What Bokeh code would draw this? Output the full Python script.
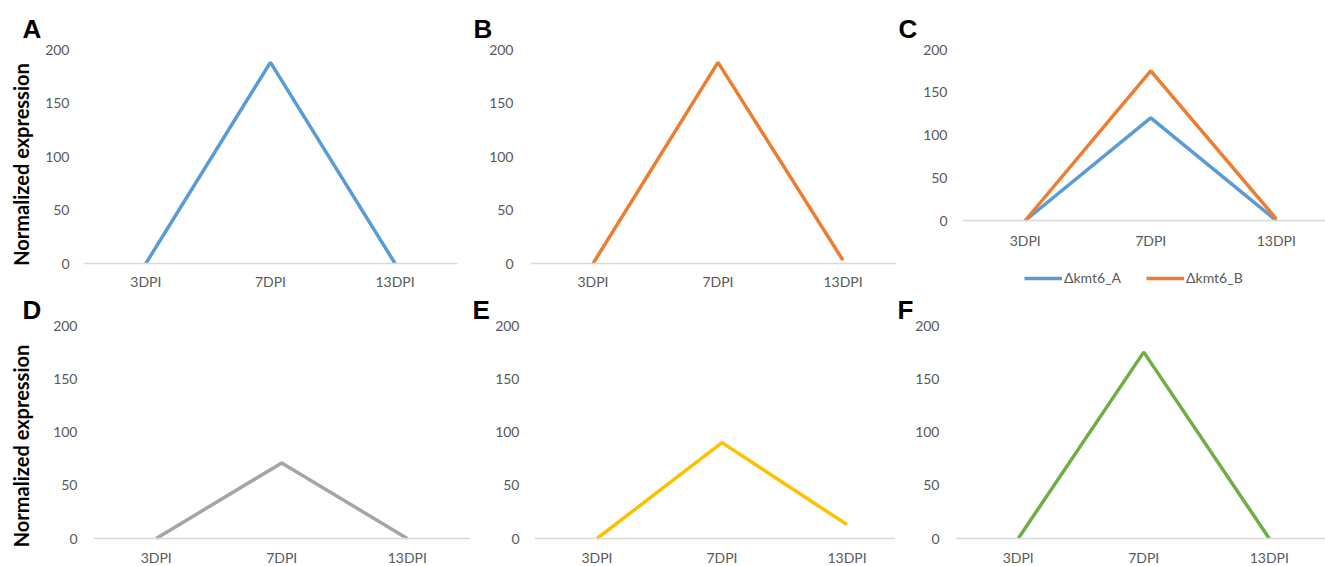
import math
from bokeh.plotting import figure
from bokeh.layouts import column, row
from bokeh.models import FixedTicker, Label, Legend, LegendItem, Range1d
from bokeh.embed import file_html
from bokeh.resources import INLINE

categories = ["3DPI", "7DPI", "13DPI"]
y_ticks = [0, 50, 100, 150, 200]
a_values = [0, 188, 0]
b_values = [0, 188, 3]
c_values_a = [0, 120, 0]
c_values_b = [0, 175, 2]
d_values = [0, 71, 0]
e_values = [0, 90, 13]
f_values = [0, 175, 0]
legend_labels = ["Δkmt6_A", "Δkmt6_B"]
panel_letters = ["A", "B", "C", "D", "E", "F"]
y_title = "Normalized expression"

FONT = "Lato"
LETTER_FONT = "Liberation Sans"
TICK_COLOR = "#595959"
AXIS_COLOR = "#D9D9D9"
BLUE, ORANGE, GRAY, YELLOW, GREEN = "#5B9BD5", "#ED7D31", "#A5A5A5", "#FFC000", "#70AD47"
LW = 3.5
Y_MAX = 200

xs = [i + 0.5 for i in range(len(categories))]

# page geometry (px)
ROW1_H, R1_TOP = 291, 49
ROW2_H, R2_TOP = 566 - 291, 325
R1_BOTTOM = ROW1_H
R2_BOTTOM = ROW1_H + ROW2_H
LABEL_W = 42


def y_start_for(frame_top, frame_bottom, zero_px):
    # value at the frame bottom so that Y_MAX sits at frame_top and 0 at zero_px
    return -Y_MAX * (frame_bottom - zero_px) / (zero_px - frame_top)


def style_title(p, letter, offset, standoff):
    p.title.text = letter
    p.title.align = "left"
    p.title.offset = offset
    p.title.standoff = standoff
    p.title.text_font = LETTER_FONT
    p.title.text_font_style = "bold"
    p.title.text_font_size = "26px"
    p.title.text_color = "black"


def make_panel(width, height, bl, bt, x_end, y_start, frame_left,
               letter, letter_x, letter_standoff, x_standoff, y_standoff=15, br=0):
    p = figure(width=width, height=height, output_backend="svg", toolbar_location=None,
               x_range=Range1d(0, x_end), y_range=Range1d(y_start, Y_MAX),
               min_border_left=bl, min_border_right=br, min_border_top=bt, min_border_bottom=0)
    p.outline_line_color = None
    p.xgrid.visible = False
    p.ygrid.visible = False
    style_title(p, letter, letter_x - frame_left, letter_standoff)

    xa = p.xaxis[0]
    xa.fixed_location = 0
    xa.ticker = FixedTicker(ticks=xs)
    xa.major_label_overrides = {x: c for x, c in zip(xs, categories)}
    xa.axis_line_color = AXIS_COLOR
    xa.axis_line_width = 1.3
    xa.major_tick_line_color = None
    xa.minor_tick_line_color = None
    xa.major_tick_out = 0
    xa.major_tick_in = 0
    xa.major_label_standoff = x_standoff
    xa.major_label_text_font = FONT
    xa.major_label_text_font_size = "14px"
    xa.major_label_text_color = TICK_COLOR

    ya = p.yaxis[0]
    ya.ticker = FixedTicker(ticks=y_ticks)
    ya.axis_line_color = None
    ya.major_tick_line_color = None
    ya.minor_tick_line_color = None
    ya.major_tick_out = 0
    ya.major_tick_in = 0
    ya.major_label_standoff = y_standoff
    ya.major_label_text_font = FONT
    ya.major_label_text_font_size = "14px"
    ya.major_label_text_color = TICK_COLOR
    return p


def make_label_strip(height, bt, letter, letter_x, letter_standoff, frame_bottom, label_cy):
    p = figure(width=LABEL_W, height=height, output_backend="svg", toolbar_location=None,
               x_axis_type=None, y_axis_type=None,
               min_border_left=0, min_border_right=0, min_border_top=bt, min_border_bottom=0)
    p.outline_line_color = None
    p.xgrid.visible = False
    p.ygrid.visible = False
    style_title(p, letter, letter_x, letter_standoff)
    p.add_layout(Label(x=20.5, y=frame_bottom - label_cy, x_units="screen", y_units="screen",
                       text=y_title, angle=math.pi / 2,
                       text_font=FONT, text_font_style="bold", text_font_size="20px",
                       text_color="black", text_align="center", text_baseline="middle"))
    return p


# ---- Row 1: figures 0..291, frames 49..291 (x axes drawn at value 0 inside the frames)
sA = make_label_strip(ROW1_H, R1_TOP, panel_letters[0], 22, 11, R1_BOTTOM, 164)

pA = make_panel(470 - LABEL_W, ROW1_H, 81 - LABEL_W, R1_TOP, 376 / 125.3,
                y_start_for(R1_TOP, R1_BOTTOM, 263), 81,
                "", 0, 11, 9, y_standoff=14, br=13)
pA.line(xs, a_values, line_color=BLUE, line_width=LW)

pB = make_panel(426, ROW1_H, 60, R1_TOP, 366 / 125,
                y_start_for(R1_TOP, R1_BOTTOM, 263), 530,
                panel_letters[1], 473, 11, 9, y_standoff=17)
pB.line(xs, b_values, line_color=ORANGE, line_width=LW)

pC = make_panel(429, ROW1_H, 66, R1_TOP, 363 / 125.5,
                y_start_for(R1_TOP, R1_BOTTOM, 220), 962,
                panel_letters[2], 898, 11, 11)
rc1 = pC.line(xs, c_values_a, line_color=BLUE, line_width=LW)
rc2 = pC.line(xs, c_values_b, line_color=ORANGE, line_width=LW)
legend = Legend(items=[LegendItem(label=legend_labels[0], renderers=[rc1]),
                       LegendItem(label=legend_labels[1], renderers=[rc2])],
                location=(62, R1_BOTTOM - 286), orientation="horizontal",
                glyph_width=38, glyph_height=16, label_height=17, label_standoff=2, spacing=25,
                padding=0, margin=0, border_line_color=None, background_fill_alpha=0,
                label_text_font=FONT, label_text_font_size="14px", label_text_color=TICK_COLOR)
pC.add_layout(legend, "center")

# ---- Row 2: figures 291..566, frames 325..566
bt2 = R2_TOP - ROW1_H
sD = make_label_strip(ROW2_H, bt2, panel_letters[3], 22, 1, ROW2_H, 445.5 - ROW1_H)

pD = make_panel(471 - LABEL_W, ROW2_H, 93 - LABEL_W, bt2, 377 / 125.5,
                y_start_for(R2_TOP, R2_BOTTOM, 538), 93,
                "", 0, 1, 10, y_standoff=16, br=1)
pD.line(xs, d_values, line_color=GRAY, line_width=LW)

pE = make_panel(424, ROW2_H, 63, bt2, 361 / 125,
                y_start_for(R2_TOP, R2_BOTTOM, 538), 534,
                panel_letters[4], 472, 1, 10)
pE.line(xs, e_values, line_color=YELLOW, line_width=LW)

pF = make_panel(430, ROW2_H, 60, bt2, 370 / 125.5,
                y_start_for(R2_TOP, R2_BOTTOM, 538), 955,
                panel_letters[5], 897, 1, 10, y_standoff=16)
pF.line(xs, f_values, line_color=GREEN, line_width=LW)

layout = column(row(sA, pA, pB, pC, spacing=0), row(sD, pD, pE, pF, spacing=0), spacing=0)

with open("out.html", "w") as fh:
    fh.write(file_html(layout, INLINE))
